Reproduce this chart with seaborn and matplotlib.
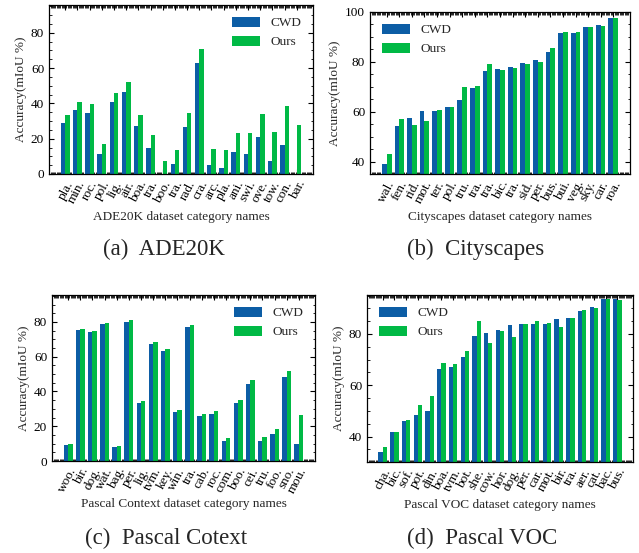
import numpy as np
import pandas as pd
import matplotlib
matplotlib.use("Agg")
import matplotlib.pyplot as plt
from matplotlib.ticker import AutoMinorLocator, MultipleLocator
import seaborn as sns

# ---------------- data ----------------
ade_labels = ["pla.", "min.", "roc.", "pol.", "lig.", "air.", "boa.", "tra.", "boo.", "tra.",
              "rad.", "cra.", "arc.", "pla.", "ani.", "swi.", "ove.", "tow.", "con.", "bar."]
ade_cwd = [28.7, 36.2, 34.5, 11.3, 40.8, 46.3, 27.2, 14.9, 0.0, 5.7,
           26.6, 62.8, 5.1, 3.4, 12.5, 11.3, 20.9, 7.4, 16.4, 0.0]
ade_ours = [33.2, 40.8, 39.4, 17.0, 45.8, 52.1, 33.2, 22.1, 7.4, 13.6,
            34.5, 70.8, 14.2, 13.6, 23.2, 23.2, 34.0, 23.8, 38.5, 27.7]

city_labels = ["wal.", "fen.", "rid.", "mot.", "ter.", "pol.", "tru.", "tra.", "tra.", "bic.",
               "tra.", "sid.", "per.", "bus.", "bui.", "veg.", "sky.", "car.", "roa."]
city_cwd = [39.1, 54.3, 57.5, 60.3, 60.3, 61.9, 64.7, 69.5, 76.3, 77.1,
            77.9, 79.5, 80.7, 83.9, 91.5, 91.5, 93.9, 94.7, 97.5]
city_ours = [43.1, 57.1, 54.7, 56.3, 60.7, 61.9, 69.9, 70.3, 79.1, 76.7,
             77.5, 79.1, 79.9, 85.5, 91.9, 91.9, 93.9, 94.3, 97.5]

ctx_labels = ["woo.", "bir.", "dog.", "wat.", "bag.", "per.", "lig.", "tvm.", "key.", "win.",
              "tra.", "cab.", "roc.", "com.", "boo.", "cei.", "tru.", "foo.", "sno.", "mou."]
ctx_cwd = [9.2, 75.4, 74.3, 78.9, 8.1, 80.0, 33.4, 67.4, 63.3, 28.2,
           77.2, 25.9, 27.1, 11.5, 33.4, 44.3, 11.5, 15.5, 48.4, 9.8]
ctx_ours = [9.8, 76.0, 74.9, 79.5, 8.6, 81.2, 34.5, 68.5, 64.5, 29.4,
            78.3, 27.1, 28.8, 13.2, 35.1, 46.6, 13.8, 18.4, 51.8, 26.5]

voc_labels = ["cha.", "bic.", "sof.", "pot.", "din.", "boa.", "tvm.", "bot.", "she.", "cow.",
              "hor.", "dog.", "per.", "car.", "mot.", "bir.", "tra.", "aer.", "cat.", "bac.", "bus."]
voc_cwd = [34.0, 41.8, 46.1, 48.4, 50.0, 66.4, 67.1, 71.0, 79.2, 80.4,
           81.6, 83.5, 83.9, 83.9, 83.9, 85.8, 86.2, 89.0, 90.5, 93.6, 93.6]
voc_ours = [36.0, 41.8, 46.5, 52.3, 55.8, 68.7, 68.3, 73.4, 85.1, 76.5,
            81.2, 78.8, 83.9, 85.1, 84.3, 82.7, 86.2, 89.4, 90.1, 93.6, 93.2]

series_names = ["CWD", "Ours"]
colors = ["#0C5DA5", "#00B945"]

panels = [
    dict(labels=ade_labels, cwd=ade_cwd, ours=ade_ours, xlabel="ADE20K dataset category names",
         caption="(a)  ADE20K", ylim=(0, 95.7), yticks=[0, 20, 40, 60, 80], legend="upper right",
         pos=[49, 5, 313, 174], cap=(164, 249), width=0.72),
    dict(labels=city_labels, cwd=city_cwd, ours=city_ours, xlabel="Cityscapes dataset category names",
         caption="(b)  Cityscapes", ylim=(35, 100), yticks=[40, 60, 80, 100], legend="upper left",
         pos=[370, 12, 630, 174], cap=(476, 249), width=0.76),
    dict(labels=ctx_labels, cwd=ctx_cwd, ours=ctx_ours, xlabel="Pascal Context dataset category names",
         caption="(c)  Pascal Cotext", ylim=(0, 95.5), yticks=[0, 20, 40, 60, 80], legend="upper right",
         pos=[52, 295, 315, 461], cap=(166, 538), width=0.72),
    dict(labels=voc_labels, cwd=voc_cwd, ours=voc_ours, xlabel="Pascal VOC dataset category names",
         caption="(d)  Pascal VOC", ylim=(30.1, 95.2), yticks=[40, 60, 80], legend="upper left",
         pos=[367, 295, 633, 462], cap=(482, 538), width=0.72),
]

sns.set_style("ticks")
plt.rcParams["font.family"] = ["Liberation Serif", "DejaVu Serif"]
plt.rcParams["font.size"] = 9
plt.rcParams["axes.linewidth"] = 0.9

W, H = 639, 553
fig = plt.figure(figsize=(W / 100, H / 100), dpi=100)

for p in panels:
    l, t, r, b = p["pos"]
    ax = fig.add_axes([l / W, 1 - b / H, (r - l) / W, (b - t) / H])
    n = len(p["labels"])
    df = pd.DataFrame({
        "idx": list(range(n)) * 2,
        "value": list(p["cwd"]) + list(p["ours"]),
        "method": [series_names[0]] * n + [series_names[1]] * n,
    })
    sns.barplot(data=df, x="idx", y="value", hue="method", hue_order=series_names,
                palette=colors, saturation=1, width=p["width"], linewidth=0,
                errorbar=None, ax=ax)
    ax.set_xlim(-1.33, n - 1 + 1.33)
    ax.set_ylim(*p["ylim"])
    ax.set_yticks(p["yticks"])
    ax.yaxis.set_minor_locator(AutoMinorLocator(4))
    ax.set_xticks(range(n))
    ax.set_xticklabels(p["labels"], rotation=62, ha="right", rotation_mode="anchor",
                       fontsize=9.5)
    ax.xaxis.set_minor_locator(MultipleLocator(0.1))
    ax.tick_params(which="both", direction="in", top=True, right=True, colors="black")
    ax.tick_params(which="major", length=3.5, width=0.8)
    ax.tick_params(which="minor", length=1.8, width=0.6)
    ax.tick_params(axis="y", labelsize=9.5)
    for s in ax.spines.values():
        s.set_color("black")
        s.set_linewidth(0.9)
    ax.set_ylabel("Accuracy(mIoU %)", fontsize=9.5, labelpad=3)
    ax.set_xlabel(p["xlabel"], fontsize=9.5)
    hpx = b - t
    ax.xaxis.set_label_coords(0.5, -37 / hpx)
    sns.move_legend(ax, p["legend"], frameon=False, title=None, fontsize=9.5,
                    handlelength=2.1, handleheight=0.75)
    fig.text(p["cap"][0] / W, 1 - p["cap"][1] / H, p["caption"], ha="center", va="center",
             fontsize=16.5)

fig.savefig("out.png", dpi=100)
